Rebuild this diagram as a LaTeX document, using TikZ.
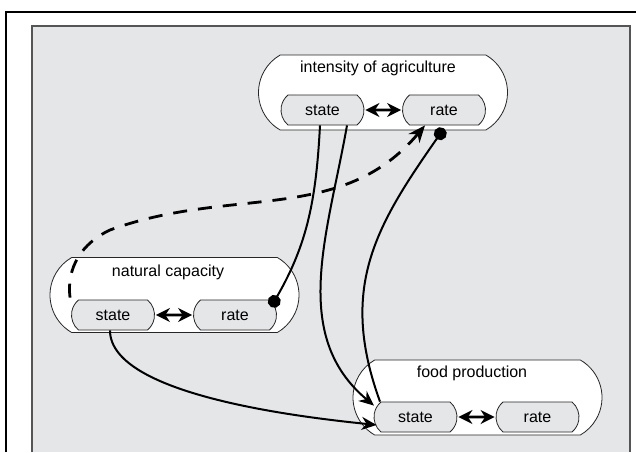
\documentclass[tikz,border=0pt]{standalone}
\usepackage{fontspec}
\setmainfont{Liberation Sans}
\usetikzlibrary{shapes.misc,arrows.meta}
\definecolor{panelgray}{RGB}{229,230,232}
\definecolor{rimgray}{RGB}{85,85,85}
\tikzset{
  sector/.style={rounded rectangle, rounded rectangle arc length=120, draw=black!85, line width=0.8pt, fill=white, minimum width=249pt, minimum height=75pt, inner sep=0pt},
  stock/.style={rounded rectangle, rounded rectangle arc length=100, draw=black!85, line width=0.8pt, fill=panelgray, minimum width=83pt, minimum height=30pt, inner sep=0pt},
  title/.style={inner sep=0pt},
  link/.style={line width=2pt, -{Stealth[length=15pt,width=13pt]}},
  hook/.style={line width=2pt, -{Circle[length=13pt]}},
  swap/.style={line width=2.6pt, {Stealth[length=14pt,width=14pt]}-{Stealth[length=14pt,width=14pt]}, shorten <=1pt, shorten >=1pt},
  influence/.style={line width=2.8pt, dash pattern=on 14pt off 11pt, -{Stealth[length=17pt,width=14pt]}}
}

\begin{document}
\begin{tikzpicture}[x=1pt, y=1pt, font=\fontsize{16}{19}\selectfont]
\useasboundingbox (0,0) rectangle (636,-452);
% frame and panel
\fill[panelgray] (32,-26) rectangle (630,-452);
\draw[rimgray, line width=1.5pt] (32,-452) -- (32,-26) -- (630,-26) -- (630,-452);
\draw[black, line width=2.5pt] (6,-452) -- (6,-12) -- (636,-12);
%
       \node [sector] at (383,-92.5) (ia) {};
       \node [title] at (378,-68) (iaTitle) {intensity of agriculture};
          \node [stock] at (322.5,-110) (iaState) {state};
          \node [stock] at (444,-110) (iaRate) {rate};
       \node [sector] at (174.5,-295) (nc) {};
       \node [title] at (168,-272) (ncTitle) {natural capacity};
          \node [stock] at (113,-315) (ncState) {state};
          \node [stock] at (235,-315) (ncRate) {rate};
       \node [sector] at (477.5,-397.5) (fp) {};
       \node [title] at (472,-373) (fpTitle) {food production};
          \node [stock] at (415.5,-417) (fpState) {state};
          \node [stock] at (537.5,-417) (fpRate) {rate};
%
\draw[swap] (iaState) -- (iaRate);
\draw[swap] (ncState) -- (ncRate);
\draw[swap] (fpState) -- (fpRate);
%
\draw[hook] ([xshift=-2.5pt]iaState.south) to[out=-93, in=60] ([xshift=36pt, yshift=8pt]ncRate.center);
\draw[link] ([xshift=24.5pt]iaState.south) to[out=-100, in=140] ([xshift=-41.5pt, yshift=-4pt]fpState.north);
\draw[link] ([xshift=-3pt]ncState.south) to[out=-90, in=174, looseness=0.6] ([xshift=3pt, yshift=-8pt]fpState.west);
\draw[hook] ([xshift=-35.5pt]fpState.north) to[out=110, in=-125, looseness=1.1] ([yshift=-3pt]iaRate.south);
%
\coordinate (dashBend) at (110,-230);
\draw[influence] ([xshift=-43pt, yshift=2pt]ncState.north) to[out=97, in=-155] (dashBend) to[out=20, in=-130] ([xshift=-19pt]iaRate.south);
\end{tikzpicture}
\end{document}
